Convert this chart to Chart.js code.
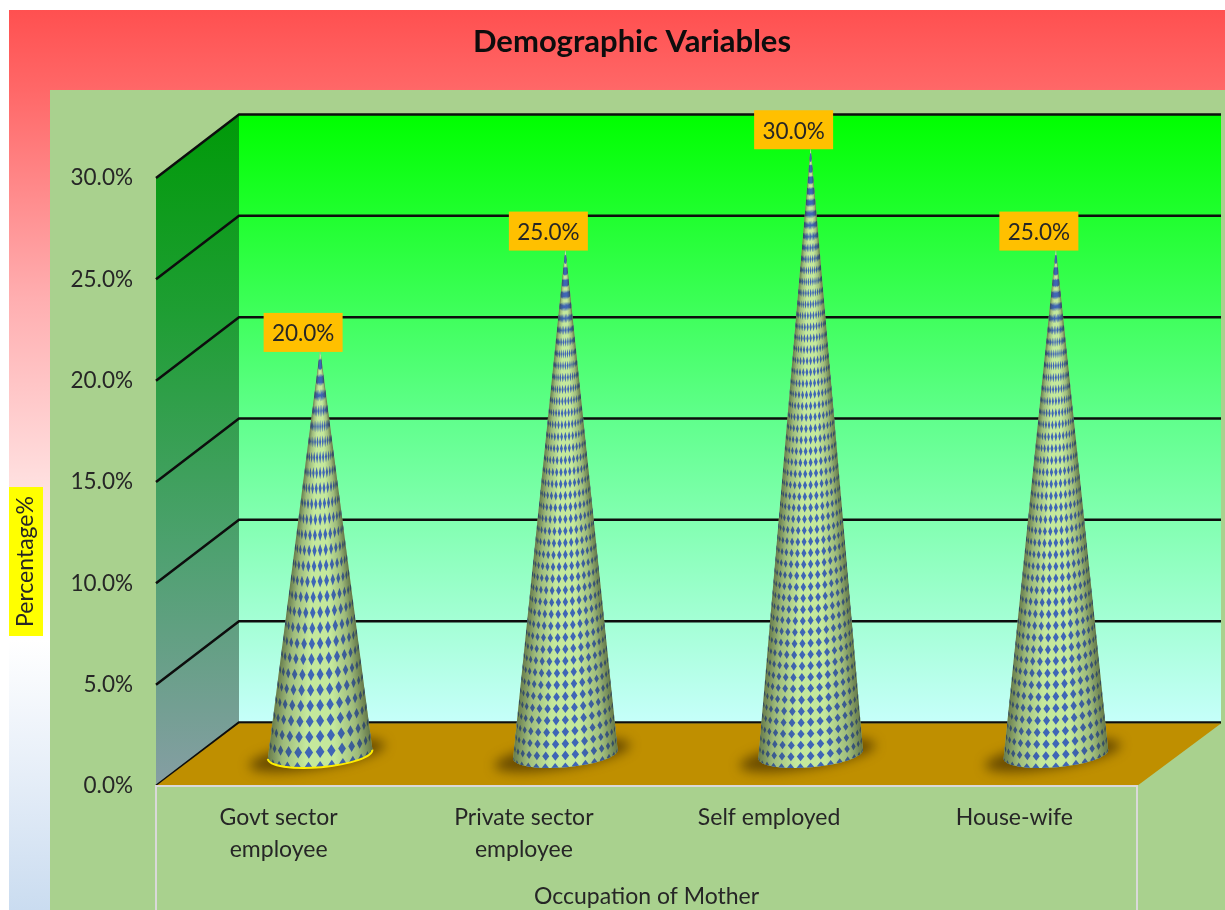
<!DOCTYPE html>
<html>
<head>
<meta charset="utf-8">
<title>Demographic Variables</title>
<script src="https://cdn.jsdelivr.net/npm/chart.js@4"></script>
<style>
    html, body { margin: 0; padding: 0; background: #ffffff; }
    canvas { display: block; }
</style>
</head>
<body>
<canvas id="demoChart" width="1225" height="910"></canvas>
<script>
// --- Data ---
const categories = [['Govt sector', 'employee'], ['Private sector', 'employee'], 'Self employed', 'House-wife'];
const percentages = [20, 25, 30, 25];
const chartTitle = 'Demographic Variables';
const xAxisTitle = 'Occupation of Mother';
const yAxisTitle = 'Percentage%';

// --- Look of the 3D box ---
const FONT = 'Lato, Carlito, sans-serif';
const TEXT_COLOR = '#262626';
const DEPTH_X = 83;   // how far the back wall sits to the right of the front
const DEPTH_Y = 63.5; // and how far up
const CONE_ROW_PITCH = [15, 11.5, 11, 11.5];
const CONE_COLUMNS = [14, 16, 16, 16];

function drawBackground(chart) {
    const ctx = chart.ctx;
    const sky = ctx.createLinearGradient(0, 10, 0, 910);
    sky.addColorStop(0, '#ff5050');
    sky.addColorStop(0.09, '#ff6868');
    sky.addColorStop(0.32, '#ffaeb0');
    sky.addColorStop(0.52, '#ffdede');
    sky.addColorStop(0.7, '#ffffff');
    sky.addColorStop(0.85, '#e6eef8');
    sky.addColorStop(1, '#cadcf0');
    ctx.fillStyle = sky;
    ctx.fillRect(9, 10, 1216, 900);
    ctx.fillStyle = '#a9d18e';
    ctx.fillRect(50, 90, 1175, 820);

    // axis title with its yellow box
    ctx.fillStyle = '#ffff00';
    ctx.fillRect(9, 487, 34, 149);
    ctx.save();
    ctx.translate(26, 561.5);
    ctx.rotate(-Math.PI / 2);
    ctx.font = '23px ' + FONT;
    ctx.fillStyle = TEXT_COLOR;
    ctx.textAlign = 'center';
    ctx.textBaseline = 'middle';
    ctx.fillText(yAxisTitle, 0, 0);
    ctx.restore();
}

function drawBox(chart) {
    const ctx = chart.ctx;
    const area = chart.chartArea;
    const yScale = chart.scales.y;
    const top = yScale.getPixelForValue(yScale.max);
    const zero = yScale.getPixelForValue(0);

    // back wall
    const wall = ctx.createLinearGradient(0, top - DEPTH_Y, 0, zero - DEPTH_Y);
    wall.addColorStop(0, '#00ff00');
    wall.addColorStop(0.5, '#60ff8c');
    wall.addColorStop(1, '#c6fffa');
    ctx.fillStyle = wall;
    ctx.fillRect(area.left + DEPTH_X, top - DEPTH_Y, area.width + 1, zero - top);

    // side wall
    const side = ctx.createLinearGradient(0, top - DEPTH_Y, 0, zero);
    side.addColorStop(0, '#009a08');
    side.addColorStop(0.3, '#1f9e34');
    side.addColorStop(0.65, '#4ea170');
    side.addColorStop(1, '#869ea4');
    ctx.fillStyle = side;
    ctx.beginPath();
    ctx.moveTo(area.left, top);
    ctx.lineTo(area.left + DEPTH_X, top - DEPTH_Y);
    ctx.lineTo(area.left + DEPTH_X, zero - DEPTH_Y);
    ctx.lineTo(area.left, zero);
    ctx.closePath();
    ctx.fill();

    // gridlines run along the side wall and then across the back
    ctx.strokeStyle = '#0d0d0d';
    ctx.lineWidth = 2.5;
    yScale.ticks.forEach(function(tick) {
        const y = yScale.getPixelForValue(tick.value);
        ctx.beginPath();
        ctx.moveTo(area.left, y);
        ctx.lineTo(area.left + DEPTH_X, y - DEPTH_Y);
        ctx.lineTo(area.right + DEPTH_X + 1, y - DEPTH_Y);
        ctx.stroke();
    });

    // floor
    ctx.fillStyle = '#bf8f00';
    ctx.beginPath();
    ctx.moveTo(area.left, zero);
    ctx.lineTo(area.left + DEPTH_X, zero - DEPTH_Y + 1);
    ctx.lineTo(area.right + DEPTH_X + 1, zero - DEPTH_Y + 1);
    ctx.lineTo(area.right, zero);
    ctx.closePath();
    ctx.fill();

    // light frame round the axis labels
    ctx.strokeStyle = '#d9d9d9';
    ctx.lineWidth = 2;
    ctx.beginPath();
    ctx.moveTo(area.left, 910);
    ctx.lineTo(area.left, zero);
    ctx.lineTo(area.right, zero);
    ctx.lineTo(area.right, 910);
    ctx.stroke();
}

// One cone, standing in the middle of the box depth
function drawCone(ctx, bar, index) {
    const cx = bar.x + DEPTH_X / 2;
    const apexY = bar.y - DEPTH_Y / 2;
    const baseY = bar.base - DEPTH_Y / 2;
    const rx = bar.width / 2;
    const ry = 13;
    const tilt = -5 * Math.PI / 180;
    const height = baseY - apexY;

    // soft shadow on the floor
    ctx.save();
    ctx.filter = 'blur(6px)';
    ctx.fillStyle = 'rgba(70, 48, 0, 0.72)';
    ctx.beginPath();
    ctx.ellipse(cx - 3, baseY + 1, rx + 16, ry, -9 * Math.PI / 180, 0, Math.PI * 2);
    ctx.fill();
    ctx.restore();

    // silhouette
    ctx.save();
    ctx.beginPath();
    ctx.moveTo(cx, apexY);
    ctx.ellipse(cx, baseY, rx, ry, tilt, Math.PI, 0, true);
    ctx.closePath();
    ctx.clip();
    ctx.fillStyle = '#c4e89c';
    ctx.fillRect(cx - rx - 2, apexY, rx * 2 + 4, height + ry + 12);

    // diamonds wrapped round the surface, all in one slightly soft path
    const pitch = CONE_ROW_PITCH[index];
    const columns = CONE_COLUMNS[index];
    const rows = Math.round(height / pitch);
    const step = Math.PI / columns;
    ctx.save();
    ctx.filter = 'blur(0.5px)';
    ctx.fillStyle = '#3f66b6';
    ctx.beginPath();
    for (let row = 0; row <= rows; row++) {
        const t = 1 - row / rows;
        const r = rx * t;
        const rowY = apexY + height * t;
        for (let col = 0; col <= columns; col++) {
            const angle = -Math.PI / 2 + col * step;
            const x = cx + r * Math.sin(angle);
            const y = rowY + ry * t * Math.cos(angle) + Math.sin(angle) * r * Math.tan(tilt);
            const halfW = Math.max(r * Math.cos(angle) * step * 0.38, 0.7);
            const halfH = pitch * 0.42 * (0.55 + 0.45 * Math.cos(angle));
            ctx.moveTo(x - halfW, y);
            ctx.lineTo(x, y - halfH);
            ctx.lineTo(x + halfW, y);
            ctx.lineTo(x, y + halfH);
            ctx.closePath();
        }
    }
    ctx.fill();
    ctx.restore();

    // round shading, one pixel row at a time so it follows the taper
    for (let y = Math.floor(apexY); y < baseY + ry + 10; y++) {
        const r = Math.max(rx * Math.min((y - apexY) / height, 1), 1);
        const shade = ctx.createLinearGradient(cx - r, 0, cx + r, 0);
        shade.addColorStop(0, 'rgba(45, 55, 25, 0.62)');
        shade.addColorStop(0.14, 'rgba(45, 55, 25, 0.25)');
        shade.addColorStop(0.36, 'rgba(45, 55, 25, 0)');
        shade.addColorStop(0.64, 'rgba(45, 55, 25, 0)');
        shade.addColorStop(0.86, 'rgba(45, 55, 25, 0.25)');
        shade.addColorStop(1, 'rgba(45, 55, 25, 0.62)');
        ctx.fillStyle = shade;
        ctx.fillRect(cx - r - 1, y, r * 2 + 2, 1);
    }
    ctx.restore();

    // the first cone is outlined along its foot in the original
    if (index === 0) {
        ctx.strokeStyle = '#ffee00';
        ctx.lineWidth = 2;
        ctx.beginPath();
        ctx.ellipse(cx, baseY, rx, ry, tilt, Math.PI, 0, true);
        ctx.stroke();
    }
}

function drawValueLabel(ctx, bar, value) {
    const cx = bar.x + DEPTH_X / 2 - 17;
    const bottom = bar.y - DEPTH_Y / 2 + 3;
    ctx.fillStyle = '#ffc000';
    ctx.fillRect(cx - 39.5, bottom - 39, 79, 39);
    ctx.fillStyle = TEXT_COLOR;
    ctx.font = '22.5px ' + FONT;
    ctx.textAlign = 'center';
    ctx.textBaseline = 'middle';
    ctx.fillText(value.toFixed(1) + '%', cx, bottom - 18);
}

const boxPlugin = {
    id: 'box3d',
    afterLayout: function(chart) {
        // the title sits a little left of the plot centre
        chart.titleBlock.left = 32;
        chart.titleBlock.right = 1232;
    },
    beforeDraw: drawBackground,
    beforeDatasetsDraw: drawBox,
    afterDatasetsDraw: function(chart) {
        const ctx = chart.ctx;
        const bars = chart.getDatasetMeta(0).data;
        bars.forEach(function(bar, i) {
            drawCone(ctx, bar, i);
        });
        bars.forEach(function(bar, i) {
            drawValueLabel(ctx, bar, percentages[i]);
        });
    }
};

new Chart(document.getElementById('demoChart'), {
    type: 'bar',
    data: {
        labels: categories,
        datasets: [{
            label: yAxisTitle,
            data: percentages,
            backgroundColor: 'rgba(0, 0, 0, 0)',
            barPercentage: 0.428,
            categoryPercentage: 1
        }]
    },
    options: {
        responsive: false,
        animation: false,
        layout: { padding: { left: 0, right: 88, top: 0, bottom: 0 } },
        plugins: {
            legend: { display: false },
            tooltip: { enabled: false },
            title: {
                display: true,
                text: chartTitle,
                color: '#0d0d0d',
                font: { family: FONT, size: 31, weight: 'bold', lineHeight: 1.2 },
                padding: { top: 23, bottom: 117.8 }
            }
        },
        scales: {
            x: {
                afterFit: function(scale) { scale.height = 124; },
                grid: { display: false, drawTicks: false },
                border: { display: false },
                ticks: {
                    color: TEXT_COLOR,
                    autoSkip: false,
                    maxRotation: 0,
                    padding: 16,
                    font: { family: FONT, size: 23, lineHeight: 1.39 }
                },
                title: {
                    display: true,
                    text: xAxisTitle,
                    color: TEXT_COLOR,
                    font: { family: FONT, size: 23, lineHeight: 1.2 },
                    padding: { top: 0, bottom: 0 }
                }
            },
            y: {
                min: 0,
                max: 30,
                afterFit: function(scale) { scale.width = 156; },
                grid: { display: false, drawTicks: false },
                border: { display: false },
                ticks: {
                    stepSize: 5,
                    color: TEXT_COLOR,
                    padding: 23,
                    font: { family: FONT, size: 22.5 },
                    callback: function(value) {
                        return value.toFixed(1) + '%';
                    }
                }
            }
        }
    },
    plugins: [boxPlugin]
});
</script>
</body>
</html>
